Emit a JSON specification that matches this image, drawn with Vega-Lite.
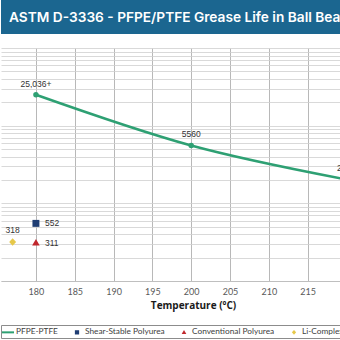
{
  "$schema": "https://vega.github.io/schema/vega-lite/v6.json",
  "padding": 0,
  "spacing": 14,
  "config": {"font": "Lato", "view": {"stroke": null}},
  "datasets": {
    "pfpe": [
      {"T": 180, "life": 25036, "label": "25,036+"},
      {"T": 200, "life": 5560, "label": "5560"},
      {"T": 220, "life": 2030, "label": "2030"}
    ],
    "others": [
      {"series": "Shear-Stable Polyurea", "T": 180, "life": 552, "label": "552"},
      {"series": "Conventional Polyurea", "T": 180, "life": 311, "label": "311"},
      {"series": "Li-Complex Grease", "T": 177, "life": 318, "label": "318"}
    ]
  },
  "vconcat": [
    {
      "width": 340,
      "height": 34,
      "view": {"fill": "#1b6690", "stroke": null},
      "title": {"text": "ASTM D-3336 - PFPE/PTFE Grease Life in Ball Bearings", "anchor": "start", "frame": "group", "offset": -32, "baseline": "middle", "dx": 8, "color": "white", "font": "Inter", "fontSize": 13.7, "fontWeight": 600},
      "data": {"values": []},
      "mark": "point"
    },
    {
      "width": 340,
      "height": 233,
      "view": {"fill": "white", "stroke": null},
      "encoding": {
        "x": {"field": "T", "type": "quantitative",
          "scale": {"domain": [175.5, 219.3], "nice": false, "zero": false},
          "axis": {"title": "Temperature (ºC)", "values": [180, 185, 190, 195, 200, 205, 210, 215], "grid": true, "gridColor": "#a6a6a6", "gridWidth": 0.8, "domainColor": "#bfbfbf", "ticks": false, "labelFontSize": 9, "labelColor": "#595959", "labelPadding": 6, "titleFontSize": 10, "titleFontWeight": "bold", "titleColor": "#1a1a1a", "titlePadding": 4, "titleX": 192, "titleFont": "Open Sans"}},
        "y": {"field": "life", "type": "quantitative",
          "scale": {"type": "log", "domain": [100, 100000], "nice": false},
          "axis": {"title": null, "labels": false, "ticks": false, "domain": false, "grid": true, "gridColor": "#cfcfcf", "gridWidth": 0.8}}
      },
      "layer": [
        {"data": {"name": "pfpe"}, "mark": {"type": "line", "color": "#2ea073", "strokeWidth": 2.5, "interpolate": "monotone", "clip": true}},
        {"data": {"name": "pfpe"}, "mark": {"type": "circle", "color": "#2ea073", "size": 30, "opacity": 1, "clip": true}},
        {"data": {"name": "pfpe"}, "mark": {"type": "text", "dy": -11, "fontSize": 8.5, "color": "#333333", "font": "Liberation Sans", "clip": true}, "encoding": {"text": {"field": "label"}}},
        {"data": {"name": "others"}, "mark": {"type": "point", "filled": true, "size": 160, "opacity": 1},
          "encoding": {
            "color": {"field": "series", "type": "nominal",
              "scale": {"domain": ["PFPE-PTFE", "Shear-Stable Polyurea", "Conventional Polyurea", "Li-Complex Grease"], "range": ["#2ea073", "#1f3d73", "#c0272d", "#e6c84a"]},
              "legend": {"title": null, "orient": "bottom", "direction": "horizontal", "columnPadding": 14, "labelFontSize": 8.3, "labelColor": "#404040", "symbolSize": 60, "strokeColor": "#8c8c8c", "padding": 2, "offset": 15, "labelOffset": 3}},
            "shape": {"field": "series", "type": "nominal",
              "scale": {"domain": ["PFPE-PTFE", "Shear-Stable Polyurea", "Conventional Polyurea", "Li-Complex Grease"], "range": ["M-1.55,-0.26H1.55V0.26H-1.55Z", "M-0.55,-0.55H0.55V0.55H-0.55Z", "M0,-0.6L0.6,0.45H-0.6Z", "M0,-0.6L0.55,0L0,0.6L-0.55,0Z"]},
              "legend": {"title": null, "orient": "bottom", "direction": "horizontal"}}
          }},
        {"data": {"name": "others"}, "transform": [{"filter": "datum.series !== 'Li-Complex Grease'"}], "mark": {"type": "text", "dx": 9, "align": "left", "fontSize": 8.5, "color": "#333333", "font": "Liberation Sans"}, "encoding": {"text": {"field": "label"}}},
        {"data": {"name": "others"}, "transform": [{"filter": "datum.series === 'Li-Complex Grease'"}], "mark": {"type": "text", "dy": -12, "fontSize": 8.5, "color": "#333333", "font": "Liberation Sans"}, "encoding": {"text": {"field": "label"}}}
      ]
    }
  ]
}
